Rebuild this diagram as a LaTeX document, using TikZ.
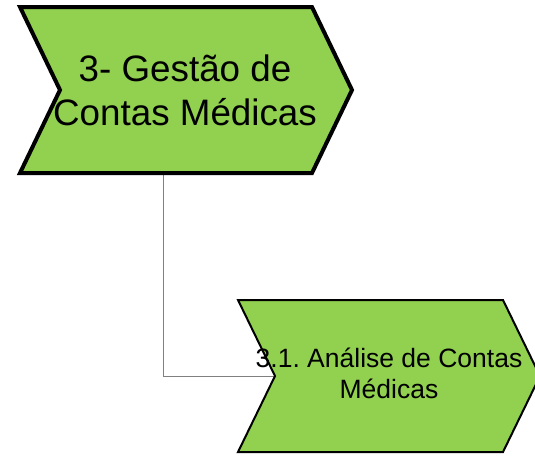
\documentclass[tikz,border=0pt]{standalone}
\usepackage{fontspec}
\setmainfont{Liberation Sans}
\frenchspacing
\definecolor{chevgreen}{HTML}{92D050}
\definecolor{linkgray}{HTML}{808080}
\tikzset{
  bigchev/.style={fill=chevgreen, draw=black, line width=4pt, line join=miter},
  smallchev/.style={fill=chevgreen, draw=black, line width=2pt, line join=miter},
  bigtext/.style={align=center, inner sep=0pt, font=\fontsize{36.8}{44}\selectfont},
  smalltext/.style={align=center, inner sep=0pt, font=\fontsize{26.5}{31}\selectfont},
  link/.style={draw=linkgray, line width=1pt}
}
\begin{document}
\begin{tikzpicture}[x=1pt, y=-1pt]
\useasboundingbox (0,0) rectangle (535,459);
% anchors
\coordinate (bigbottom) at (163,173);
\coordinate (smallnotch) at (275,376);
% connector
\draw[link] (bigbottom) |- (smallnotch);
% big chevron
\draw[bigchev] (20,7) -- (312,7) -- (352,90) -- (312,173) -- (20,173) -- (60,90) -- cycle;
\node[bigtext] (big) at (185,90) {3- Gestão de\\Contas Médicas};
% small chevron
\draw[smallchev] (238,300) -- (503,300) -- (540,376) -- (503,452) -- (238,452) -- (275,376) -- cycle;
\node[smalltext] (small) at (389,373) {3.1. Análise de Contas\\Médicas};
\end{tikzpicture}
\end{document}
